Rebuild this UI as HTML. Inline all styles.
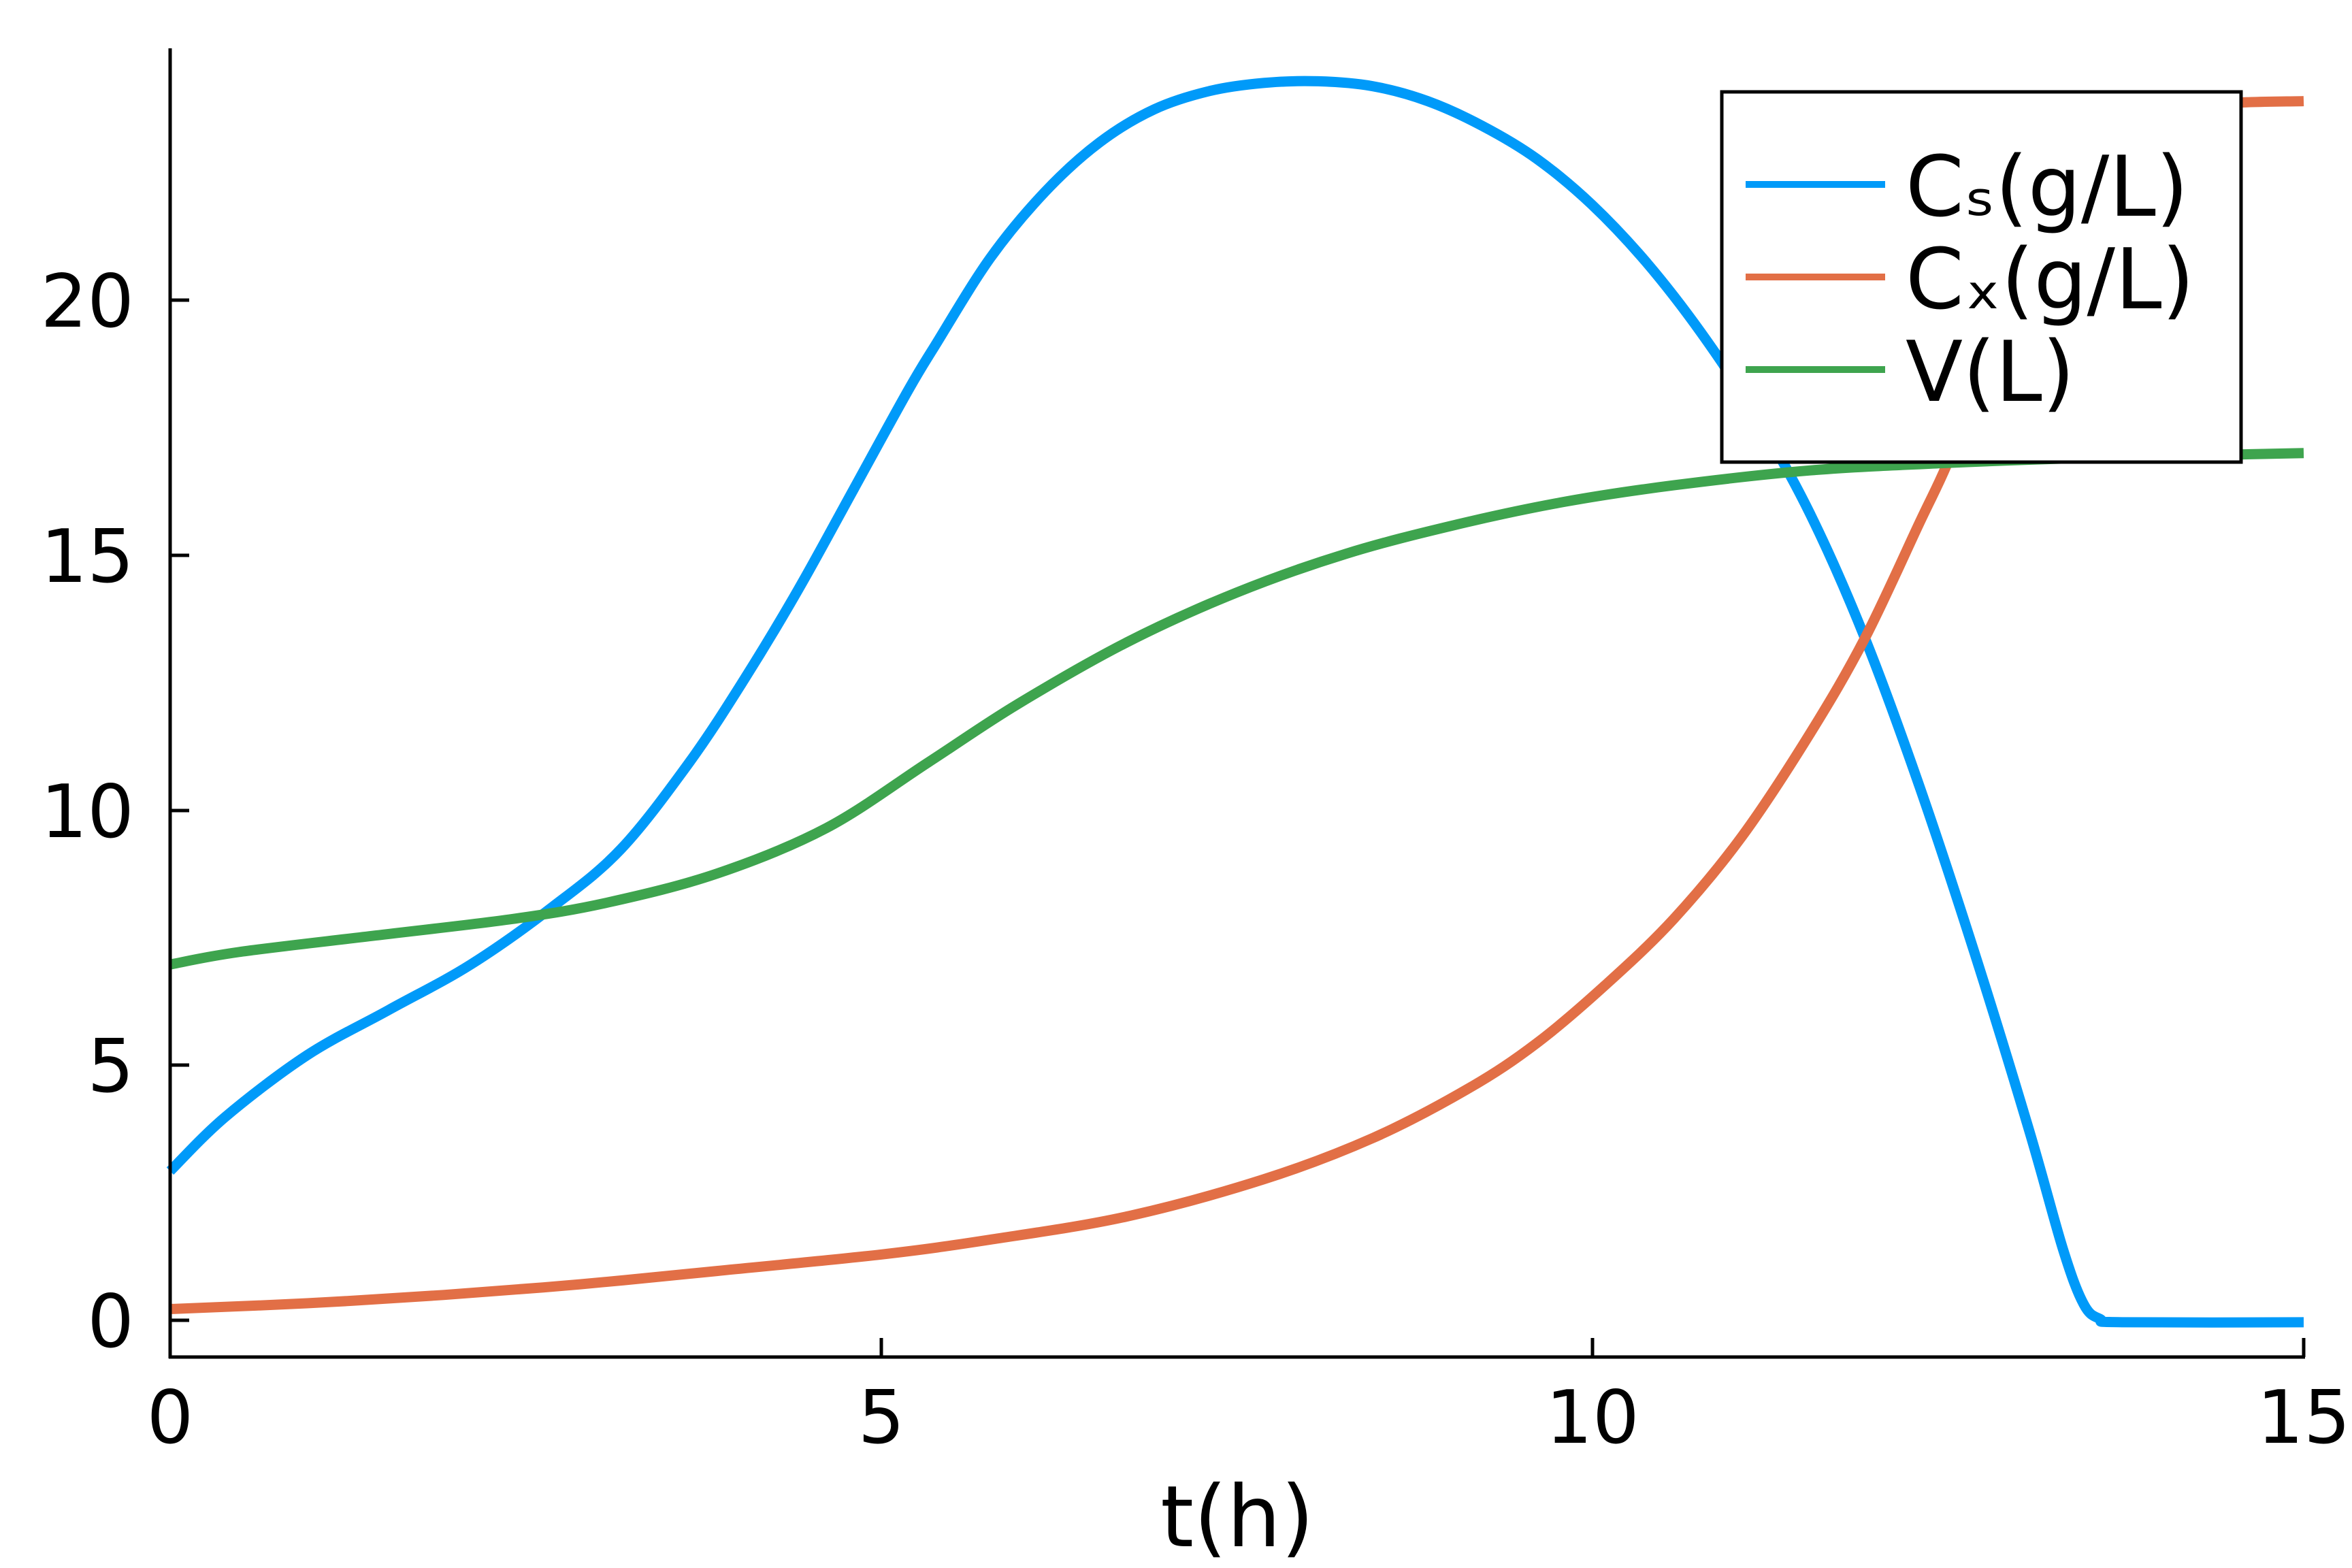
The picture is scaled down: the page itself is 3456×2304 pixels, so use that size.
<!DOCTYPE html>
<html><head><meta charset="utf-8"><style>
html,body{margin:0;padding:0;background:#fff;}
svg{display:block;}
text{font-family:"DejaVu Sans","Liberation Sans",sans-serif;fill:#000;}
</style></head><body>
<svg id="s" width="3456" height="2304" viewBox="0 0 3456 2304" xmlns="http://www.w3.org/2000/svg">
<rect width="3456" height="2304" fill="#fff"/>
<g id="curves" fill="none" stroke-linejoin="round" stroke-linecap="butt"></g>
<g stroke="#000" stroke-width="5" fill="none">
<line x1="250" y1="71" x2="250" y2="1996"/>
<line x1="248" y1="1994" x2="3387" y2="1994"/>
<line x1="250" y1="1940" x2="278" y2="1940"/>
<line x1="250" y1="1565" x2="278" y2="1565"/>
<line x1="250" y1="1191" x2="278" y2="1191"/>
<line x1="250" y1="816" x2="278" y2="816"/>
<line x1="250" y1="441" x2="278" y2="441"/>
<line x1="1295" y1="1994" x2="1295" y2="1966"/>
<line x1="2340" y1="1994" x2="2340" y2="1966"/>
<line x1="3385" y1="1994" x2="3385" y2="1966"/>
</g>
<g font-size="108" text-anchor="end">
<text x="197" y="1979">0</text>
<text x="197" y="1604">5</text>
<text x="197" y="1230">10</text>
<text x="197" y="855">15</text>
<text x="197" y="480">20</text>
</g>
<g font-size="108" text-anchor="middle">
<text x="250" y="2120">0</text>
<text x="1295" y="2120">5</text>
<text x="2340" y="2120">10</text>
<text x="3385" y="2120">15</text>
</g>
<text x="1818" y="2272" font-size="125" text-anchor="middle">t(h)</text>
<rect x="2530" y="135" width="763" height="544" fill="#fff" stroke="#000" stroke-width="5"/>
<line x1="2565" y1="271" x2="2770" y2="271" stroke="#009af9" stroke-width="10"/>
<line x1="2565" y1="407" x2="2770" y2="407" stroke="#e26f46" stroke-width="10"/>
<line x1="2565" y1="543" x2="2770" y2="543" stroke="#3ea44e" stroke-width="10"/>
<g font-size="123">
<text x="2800" y="317">Cₛ(g/L)</text>
<text x="2800" y="453">Cₓ(g/L)</text>
<text x="2800" y="589">V(L)</text>
</g>
</svg>
<script>
function X(x){return 250+x*3135/1561;}
function Y(y){return 100+y/0.8237;}
function path(pts){
  var p=pts.map(function(a){return [X(a[0]),Y(a[1])];});
  var d="M"+p[0][0].toFixed(1)+","+p[0][1].toFixed(1);
  for(var i=0;i<p.length-1;i++){
    var p0=p[i-1]||p[i],p1=p[i],p2=p[i+1],p3=p[i+2]||p2;
    var c1=[p1[0]+(p2[0]-p0[0])/6,p1[1]+(p2[1]-p0[1])/6];
    var c2=[p2[0]-(p3[0]-p1[0])/6,p2[1]-(p3[1]-p1[1])/6];
    d+=" C"+c1[0].toFixed(1)+","+c1[1].toFixed(1)+" "+c2[0].toFixed(1)+","+c2[1].toFixed(1)+" "+p2[0].toFixed(1)+","+p2[1].toFixed(1);
  }
  return d;
}
var blue=[[0,1335],[40,1270],[100,1195],[160,1140],[220,1085],[280,1015],[330,945],[380,840],[420,740],[460,630],[500,510],[540,390],[560,335],[600,230],[640,150],[680,90],[720,50],[760,28],[800,18],[840,16],[880,22],[920,40],[960,70],[1000,110],[1040,165],[1080,235],[1120,320],[1160,420],[1200,540],[1240,690],[1280,870],[1320,1070],[1360,1285],[1385,1430],[1400,1496],[1412,1514],[1428,1518],[1561,1518]];
var orange=[[0,1502],[100,1495],[200,1485],[300,1472],[400,1456],[520,1436],[600,1418],[700,1390],[800,1345],[880,1295],[950,1235],[1000,1180],[1050,1110],[1100,1030],[1150,930],[1200,805],[1240,690],[1280,550],[1300,480],[1330,360],[1360,240],[1390,150],[1420,90],[1460,55],[1500,43],[1561,40]];
var green=[[0,1085],[50,1070],[150,1050],[250,1030],[320,1010],[400,975],[480,920],[555,840],[620,770],[700,695],[780,635],[860,588],[940,553],[1020,525],[1100,505],[1200,487],[1300,478],[1400,472],[1561,466]];
var g=document.getElementById("curves");
[[blue,"#009af9"],[orange,"#e26f46"],[green,"#3ea44e"]].forEach(function(s){
  var e=document.createElementNS("http://www.w3.org/2000/svg","path");
  e.setAttribute("d",path(s[0]));e.setAttribute("stroke",s[1]);e.setAttribute("stroke-width","15");
  g.appendChild(e);
});
</script>
</body></html>
